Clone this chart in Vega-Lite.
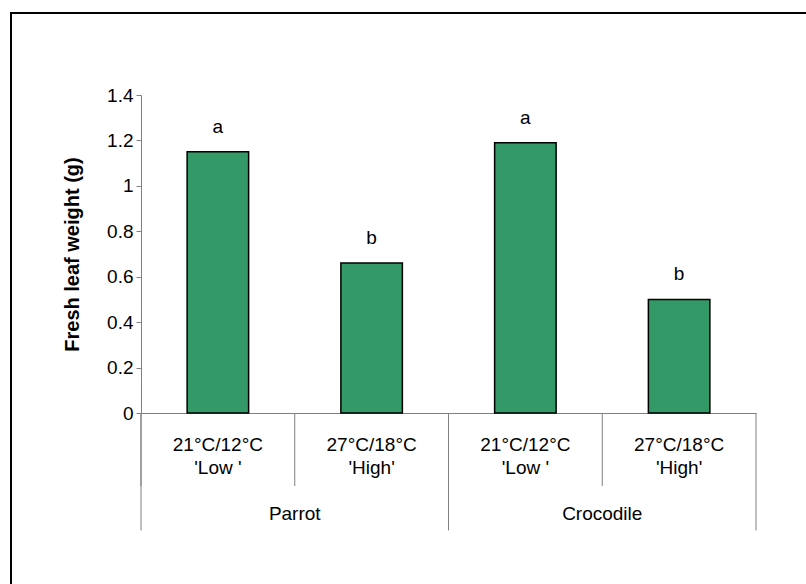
{
  "$schema": "https://vega.github.io/schema/vega-lite/v6.json",
  "width": 805,
  "height": 580,
  "autosize": {"type": "none"},
  "padding": {"left": 11, "top": 13, "right": 0, "bottom": 0},
  "background": "white",
  "config": {
    "view": {"stroke": "black", "strokeWidth": 2},
    "font": "Liberation Sans",
    "text": {"font": "Liberation Sans", "fontSize": 19, "color": "black"}
  },
  "data": {
    "values": [
      {"cultivar": "Parrot", "temp": "21°C/12°C", "regime": "'Low '", "cond": "Parrot 21/12", "weight": 1.15, "letter": "a"},
      {"cultivar": "Parrot", "temp": "27°C/18°C", "regime": "'High'", "cond": "Parrot 27/18", "weight": 0.66, "letter": "b"},
      {"cultivar": "Crocodile", "temp": "21°C/12°C", "regime": "'Low '", "cond": "Crocodile 21/12", "weight": 1.19, "letter": "a"},
      {"cultivar": "Crocodile", "temp": "27°C/18°C", "regime": "'High'", "cond": "Crocodile 27/18", "weight": 0.50, "letter": "b"}
    ]
  },
  "encoding": {
    "x": {
      "field": "cond",
      "type": "nominal",
      "sort": null,
      "scale": {"range": [130, 745], "paddingInner": 0, "paddingOuter": 0},
      "axis": {"title": null, "labels": false, "ticks": false, "domainColor": "#808080", "domainWidth": 1, "offset": -180}
    }
  },
  "layer": [
    {
      "mark": {"type": "bar", "fill": "#339966", "stroke": "black", "strokeWidth": 1.5, "width": {"band": 0.4}},
      "encoding": {
        "y": {
          "field": "weight",
          "type": "quantitative",
          "scale": {"domain": [0, 1.4], "range": [400, 82]},
          "axis": {
            "title": "Fresh leaf weight (g)",
            "titleFont": "Liberation Sans",
            "titleFontSize": 20,
            "titleFontWeight": "bold",
            "titleColor": "black",
            "titlePadding": 24,
            "values": [0, 0.2, 0.4, 0.6, 0.8, 1, 1.2, 1.4],
            "format": "~g",
            "labelFont": "Liberation Sans",
            "labelFontSize": 19,
            "labelColor": "black",
            "labelPadding": 3,
            "tickSize": 5,
            "tickColor": "#808080",
            "domainColor": "#808080",
            "domainWidth": 1,
            "grid": false,
            "offset": -130
          }
        }
      }
    },
    {
      "mark": {"type": "text", "baseline": "alphabetic", "dy": -19, "fontSize": 19},
      "encoding": {
        "y": {"field": "weight", "type": "quantitative"},
        "text": {"field": "letter"}
      }
    },
    {
      "mark": {"type": "rule", "color": "#808080", "strokeWidth": 1},
      "encoding": {
        "x": {"field": "cond", "type": "nominal", "sort": null, "bandPosition": 0},
        "y": {"datum": 0},
        "y2": {"datum": -0.3214}
      }
    },
    {
      "transform": [{"filter": "datum.temp == '21°C/12°C'"}],
      "mark": {"type": "rule", "color": "#808080", "strokeWidth": 1},
      "encoding": {
        "x": {"field": "cond", "type": "nominal", "sort": null, "bandPosition": 0},
        "y": {"datum": 0},
        "y2": {"datum": -0.517}
      }
    },
    {
      "transform": [{"filter": "datum.cond == 'Crocodile 27/18'"}],
      "mark": {"type": "rule", "color": "#808080", "strokeWidth": 1},
      "encoding": {
        "x": {"field": "cond", "type": "nominal", "sort": null, "bandPosition": 1},
        "y": {"datum": 0},
        "y2": {"datum": -0.517}
      }
    },
    {
      "mark": {"type": "text", "baseline": "middle", "fontSize": 19},
      "encoding": {
        "y": {"datum": -0.142},
        "text": {"field": "temp"}
      }
    },
    {
      "mark": {"type": "text", "baseline": "middle", "fontSize": 19},
      "encoding": {
        "y": {"datum": -0.243},
        "text": {"field": "regime"}
      }
    },
    {
      "transform": [{"filter": "datum.temp == '27°C/18°C'"}],
      "mark": {"type": "text", "baseline": "middle", "fontSize": 19},
      "encoding": {
        "x": {"field": "cond", "type": "nominal", "sort": null, "bandPosition": 0},
        "y": {"datum": -0.4425},
        "text": {"field": "cultivar"}
      }
    }
  ]
}
